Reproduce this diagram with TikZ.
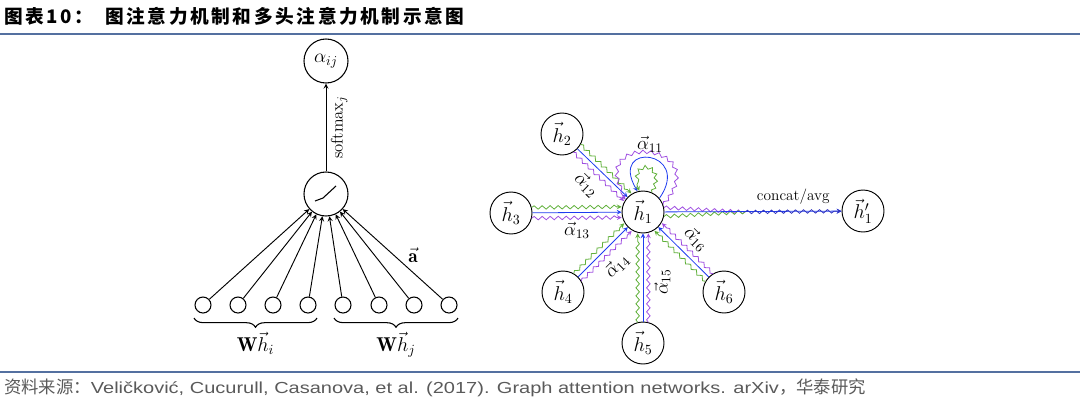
\RequirePackage{fix-cm}
\documentclass[tikz,border=0pt]{standalone}
\usepackage{amsmath}
\usepackage{fontspec}
\usepackage{tikz}
\usetikzlibrary{
  arrows, calc, positioning,
  decorations.pathmorphing, decorations.pathreplacing
}
\newfontfamily\cjk{Noto Sans CJK SC}
\newfontfamily\cjktitle{Noto Sans CJK SC}[LetterSpace=14]
\newfontfamily\srcfont{Liberation Sans}[FakeStretch=1.25]
\definecolor{rulecol}{RGB}{84,112,160}
\definecolor{gatgreen}{RGB}{96,176,58}
\definecolor{gatviolet}{RGB}{160,80,225}
\definecolor{gatblue}{RGB}{30,60,240}
\definecolor{srcgray}{RGB}{90,90,90}

\begin{document}
\begin{tikzpicture}[x=0.75pt,y=-0.75pt,>=stealth,
    every node/.style={font=\fontsize{14.5}{16}\selectfont},
    neuron/.style={circle,draw,line width=0.8pt,minimum size=33pt,inner sep=0pt},
    inunit/.style={circle,draw,line width=0.8pt,minimum size=12pt,inner sep=0pt},
    hnode/.style={circle,draw,line width=0.7pt,minimum size=31.5pt,inner sep=0pt,font=\fontsize{15}{17}\selectfont},
    albl/.style={font=\fontsize{14}{16}\selectfont},
    wavy/.style={decorate,line width=0.6pt,
      decoration={snake,amplitude=1.3pt,segment length=6pt,post length=3.5pt}},
    brc/.style={decorate,line width=0.8pt,decoration={brace,mirror,amplitude=7pt}}]
  \useasboundingbox (0,0) rectangle (1080,404);

  % header and footer
  \node[anchor=west,inner sep=0pt,font=\cjktitle\bfseries\fontsize{14}{16}\selectfont] (fignum) at (4,16) {图表10：};
  \node[anchor=west,inner sep=0pt,font=\cjktitle\bfseries\fontsize{14}{16}\selectfont] (figtitle) at (105,16) {图注意力机制和多头注意力机制示意图};
  \draw[rulecol,line width=2.2pt] (0,34) -- (1080,34);
  \draw[rulecol,line width=1pt] (0,372) -- (1080,372);
  \node[anchor=west,inner sep=0pt,text=srcgray,font=\fontsize{12}{14}\selectfont] (source) at (4,388)
    {{\cjk\fontsize{13}{14}\selectfont 资料来源：}{\srcfont Veličković, Cucurull, Casanova, et al. (2017). Graph attention networks. arXiv}{\cjk\fontsize{13}{14}\selectfont ，华泰研究}};

  % attention mechanism
  \node[neuron] (aij) at (326,61) {$\alpha_{ij}$};
  \node[neuron] (act) at (326,194) {};
  \draw[line width=0.8pt] ([shift={(-11,7)}]act.center) -- ([shift={(-3,4)}]act.center) -- ([shift={(10,-8)}]act.center);
  \draw[->,line width=0.7pt] (act) -- node[sloped,below,font=\fontsize{12.5}{14}\selectfont] {softmax$_j$} (aij);
  \foreach \x [count=\i] in {203,238,273,308,343,379,414,449}
    \node[inunit] (in\i) at (\x,305) {};
  \foreach \i in {1,...,8}
    \draw[->,line width=0.7pt] (in\i) -- (act);
  \node (avec) at (413,255) {$\vec{\mathbf{a}}$};
  \draw[brc] ([shift={(-9,13)}]in1.center) -- node[below=7pt,font=\fontsize{15}{17}\selectfont] {$\mathbf{W}\vec{h}_i$} ([shift={(9,13)}]in4.center);
  \draw[brc] ([shift={(-9,13)}]in5.center) -- node[below=7pt,font=\fontsize{15}{17}\selectfont] {$\mathbf{W}\vec{h}_j$} ([shift={(9,13)}]in8.center);

  % multi-head attention
  \node[hnode] (h1) at (643,212) {$\vec{h}_1$};
  \node[hnode] (h2) at (562,134) {$\vec{h}_2$};
  \node[hnode] (h3) at (511,213) {$\vec{h}_3$};
  \node[hnode] (h4) at (563,292) {$\vec{h}_4$};
  \node[hnode] (h5) at (643,343) {$\vec{h}_5$};
  \node[hnode] (h6) at (724,292) {$\vec{h}_6$};
  \node[hnode] (h1p) at (863,211) {$\vec{h}'_1$};
  \foreach \n in {2,...,6}{
    \coordinate (s) at ($(h\n)!15.5pt!(h1)$);
    \coordinate (e) at ($(h1)!16pt!(h\n)$);
    \draw[->,gatblue,line width=0.6pt] (h\n) -- (h1);
    \draw[->,gatgreen,wavy] ($(s)!4pt!90:(e)$) -- ($(e)!4pt!-90:(s)$);
    \draw[->,gatviolet,wavy] ($(s)!4pt!-90:(e)$) -- ($(e)!4pt!90:(s)$);
  }
  \draw[->,gatviolet,wavy] (h1.20) to[out=50,in=125,looseness=5.5] (h1.145);
  \draw[->,gatblue,line width=0.6pt] (h1.40) to[out=55,in=120,looseness=6.5] (h1.105);
  \draw[->,gatgreen,wavy,decoration={segment length=5pt}] (h1.65) to[out=65,in=115,looseness=6.7] (h1.100);
  \node[albl] (a11) at (650,144) {$\vec{\alpha}_{11}$};
  \path (h2) -- (h1) node[albl,pos=0.45,sloped,below=5pt] {$\vec{\alpha}_{12}$};
  \path (h3) -- (h1) node[albl,midway,below=4pt] {$\vec{\alpha}_{13}$};
  \path (h4) -- (h1) node[albl,midway,sloped,below=5pt] {$\vec{\alpha}_{14}$};
  \path (h5) -- (h1) node[albl,pos=0.45,sloped,below=5pt] {$\vec{\alpha}_{15}$};
  \path (h1) -- (h6) node[albl,midway,sloped,above=4pt] {$\vec{\alpha}_{16}$};

  % heads merged
  \coordinate (mrg) at (745,212);
  \draw[gatviolet,wavy,decoration={post length=0pt}] (h1.12) -- (mrg);
  \draw[gatgreen,wavy,decoration={post length=0pt}] (h1.-12) -- (mrg);
  \draw[->,gatblue,line width=0.6pt] (h1) -- (h1p);
  \draw[->,gatblue!75!gatviolet!80!black,wavy] (mrg) -- node[above=2pt,black,font=\fontsize{11.5}{13}\selectfont] {concat/avg} (h1p);
\end{tikzpicture}
\end{document}
